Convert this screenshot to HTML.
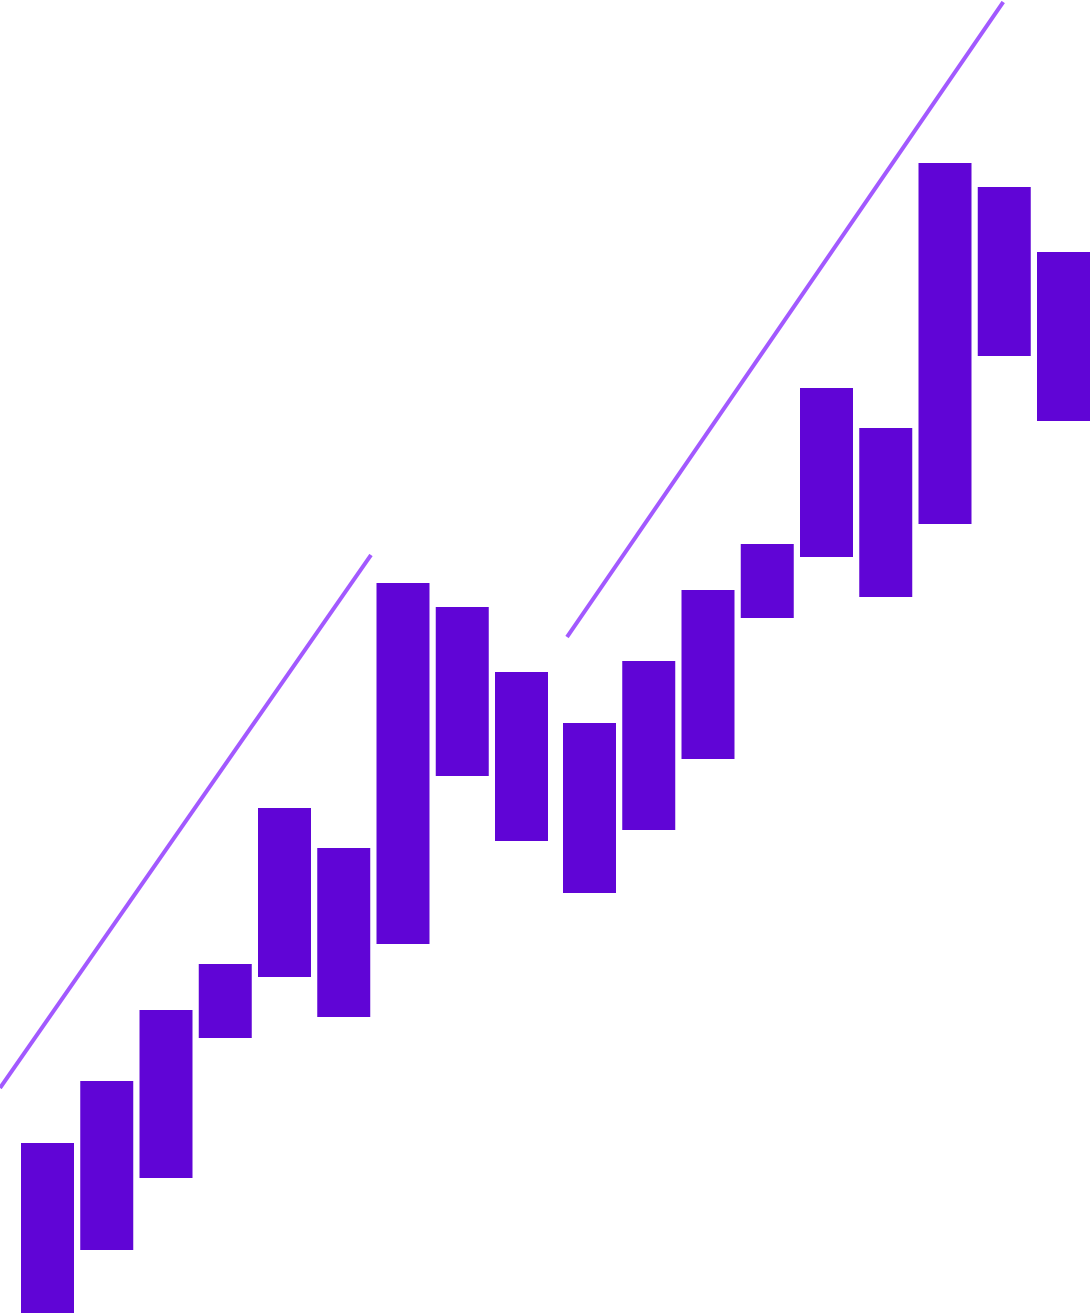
<!DOCTYPE html>
<html><head><meta charset="utf-8"><style>
html,body{margin:0;padding:0;background:#fff;width:1090px;height:1313px;overflow:hidden}
svg{display:block}
</style></head><body>
<svg id="chart" width="1090" height="1313" viewBox="0 0 1090 1313"></svg>
<script>
const categories = [1,2,3,4,5,6,7,8,9,10,11,12,13,14,15,16,17,18];
const lows  = [0,63,135,275,336,296,369,537,472,420,483,554,695,756,716,789,957,892];
const highs = [170,232,303,349,505,465,730,706,641,590,652,723,769,925,885,1150,1126,1061];
const trend1Idx = [-0.354, 5.907];
const trend1Val = [225, 758];
const trend2Idx = [9.068, 16.43];
const trend2Val = [676, 1311];

const NS = "http://www.w3.org/2000/svg";
const svg = document.getElementById('chart');
const barW = 53;
function xScale(i){ return 21 + i*59.25 + (i >= 8.5 ? 8.75 : 0); }
function yScale(v){ return 1313 - v; }

categories.forEach((c,i)=>{
  const r = document.createElementNS(NS,'rect');
  r.setAttribute('x', xScale(i));
  r.setAttribute('y', yScale(highs[i]));
  r.setAttribute('width', barW);
  r.setAttribute('height', yScale(lows[i]) - yScale(highs[i]));
  r.setAttribute('fill', '#6005d6');
  
  
  svg.appendChild(r);
});

function trend(idx, val, name){
  const l = document.createElementNS(NS,'line');
  l.setAttribute('x1', xScale(idx[0]));
  l.setAttribute('y1', yScale(val[0]));
  l.setAttribute('x2', xScale(idx[1]));
  l.setAttribute('y2', yScale(val[1]));
  l.setAttribute('stroke', '#a259ff');
  l.setAttribute('stroke-width', '4');
  
  
  svg.appendChild(l);
}
trend(trend1Idx, trend1Val, 'trend-line-1');
trend(trend2Idx, trend2Val, 'trend-line-2');
</script>
</body></html>
